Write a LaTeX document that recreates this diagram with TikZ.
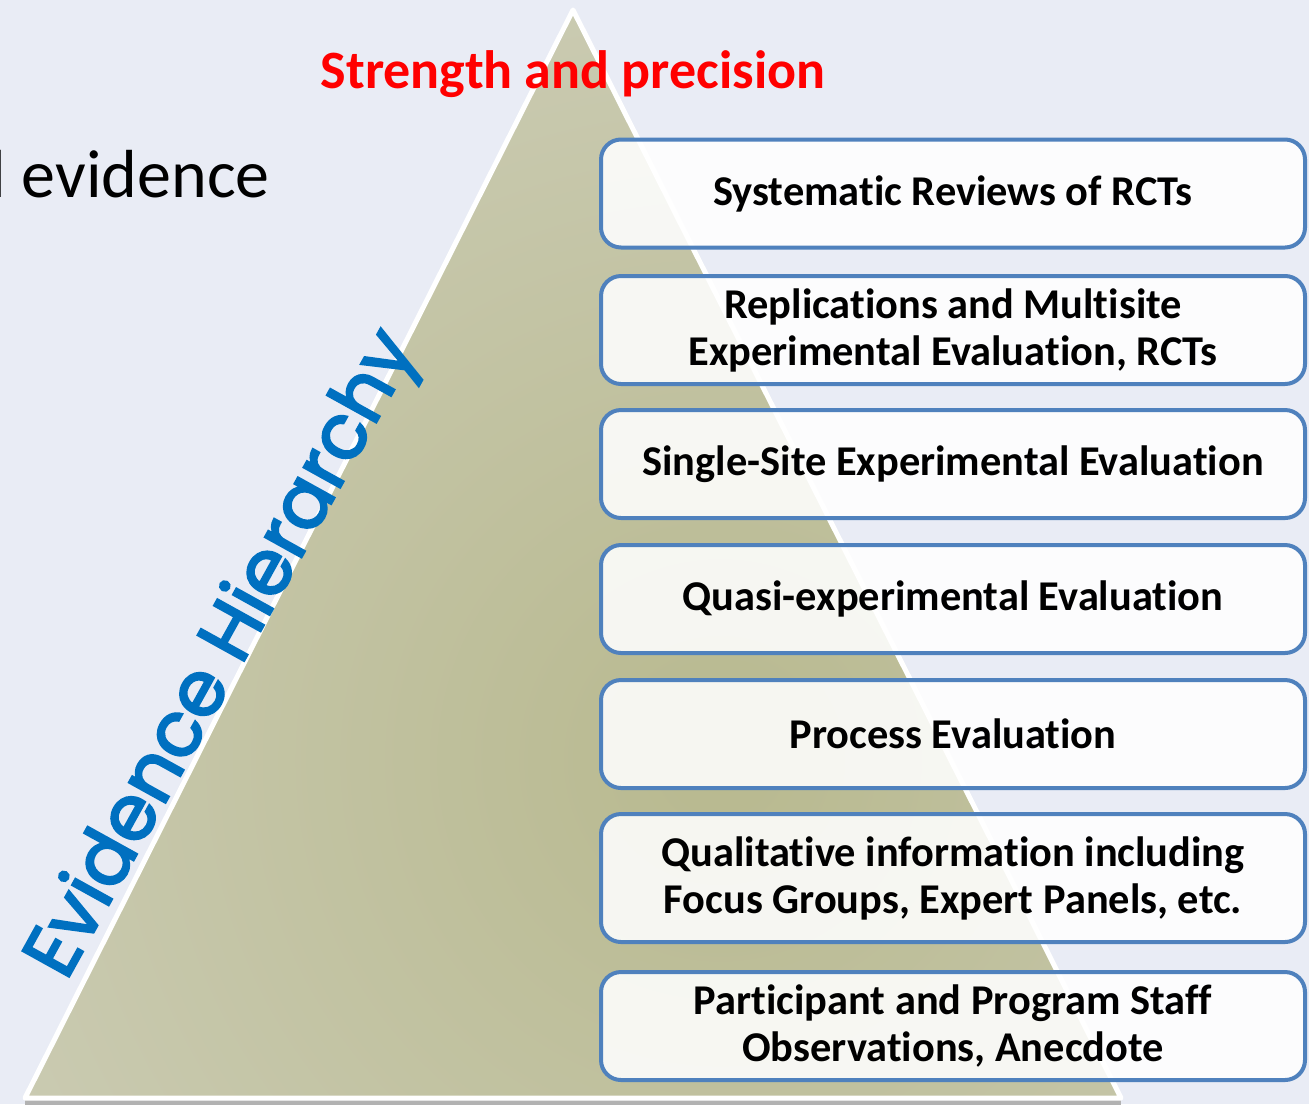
\documentclass[tikz,border=0pt]{standalone}
\usepackage{fontspec}
\setmainfont{Carlito}[RawFeature={-liga;-clig;-dlig;-calt;-rlig}]
\newfontfamily\hierfont{Poppins}[FakeBold=3]
\usetikzlibrary{calc}
\definecolor{slidebg}{HTML}{E9ECF5}
\definecolor{boxblue}{HTML}{4F81BD}
\definecolor{hierblue}{HTML}{0070C0}
\definecolor{pyrolive}{HTML}{B8B98F}
\definecolor{pyrlight}{HTML}{DFDFDA}
\tikzset{
  evbox/.style={draw=boxblue, line width=2pt, rounded corners=10pt,
    fill=white, fill opacity=0.88, text opacity=1, inner sep=0pt,
    minimum width=352pt, minimum height=54pt, align=center,
    font=\bfseries\fontsize{21.2}{23.5}\selectfont},
  hiertext/.style={font=\hierfont\fontsize{38}{40}\selectfont,
    rotate=61, anchor=base west, inner sep=0pt}
}
\begin{document}
\begin{tikzpicture}[x=0.5pt,y=-0.5pt]

% Slide background
\fill[slidebg] (0,0) rectangle (1309,1104);
\useasboundingbox (0,0) rectangle (1309,1104);

% Corners of the pyramid
\coordinate (T) at (573,10);
\coordinate (L) at (25,1098);
\coordinate (R) at (1121,1098);

% Shadow, shaded body and white rim
\draw[black!30, line width=2.5pt] ([yshift=-2pt]L) -- ([yshift=-2pt]R);
\begin{scope}
\clip (T) -- (L) -- (R) -- cycle;
\shade[inner color=pyrolive, outer color=pyrlight] (720,760) circle (1700);
\end{scope}
\draw[white, line width=2.5pt, line join=round] (T) -- (L) -- (R) -- cycle;

% Titles
\node[text=red, font=\bfseries\fontsize{27}{32}\selectfont, anchor=base] (title) at (573,88) {Strength and precision};
\node[font=\fontsize{34}{40}\selectfont, anchor=base east, inner sep=0pt] (subtitle) at (270,197) {l evidence};

% Label along the left side
\node[hiertext, text=hierblue] (hier) at (66,982) {Evidence Hierarchy};

% Levels of evidence
\node[evbox] (sys) at (953,193.5) {Systematic Reviews of RCTs};
\node[evbox] (rep) at (953,330) {Replications and Multisite\\Experimental Evaluation, RCTs};
\node[evbox] (single) at (953,464) {Single-Site Experimental Evaluation};
\node[evbox] (quasi) at (953,599) {Quasi-experimental Evaluation};
\node[evbox] (proc) at (953,734) {Process Evaluation};
\node[evbox, minimum height=64pt] (qual) at (953,878) {Qualitative information including\\Focus Groups, Expert Panels, etc.};
\node[evbox] (part) at (953,1026) {Participant and Program Staff\\Observations, Anecdote};
\end{tikzpicture}
\end{document}
